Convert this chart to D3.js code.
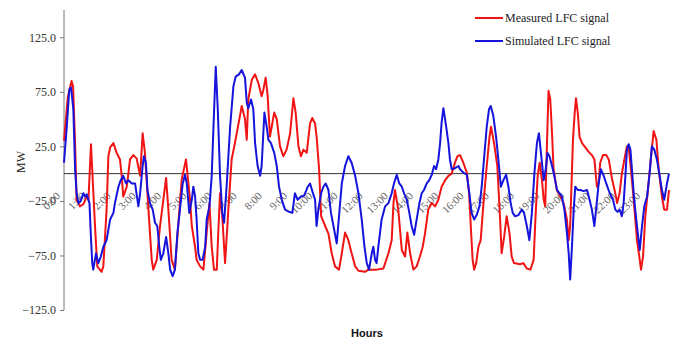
<!DOCTYPE html>
<html>
<head>
<meta charset="utf-8">
<script src="https://cdn.jsdelivr.net/npm/d3@7"></script>
<style>
  body { margin: 0; background: #fff; }
  svg { display: block; }
</style>
</head>
<body>
<div id="chart"></div>
<script>
// hour labels along the zero line
const hourTicks = d3.range(0, 24);
const yTicks = [-125, -75, -25, 25, 75, 125];

// measured LFC signal, [hour, MW]
const measured = [
  [0.00, 30], [0.15, 70], [0.30, 85], [0.36, 80], [0.44, 28], [0.50, -24], [0.63, -30], [0.77, -28],
  [0.90, -21], [0.97, -24], [1.07, 27], [1.23, -48], [1.32, -85], [1.49, -90], [1.56, -85], [1.69, -33],
  [1.76, 16], [1.83, 24], [1.96, 28], [2.09, 19], [2.22, 13], [2.29, -2], [2.35, -21], [2.49, -12],
  [2.62, 13], [2.75, 17], [2.88, 14], [3.02, -2], [3.12, 37], [3.21, 19], [3.35, -33], [3.48, -79],
  [3.54, -88], [3.68, -79], [3.81, -48], [3.94, -24], [4.05, -4], [4.14, -33], [4.27, -79], [4.40, -88],
  [4.54, -45], [4.67, -5], [4.84, 13], [5.00, -24], [5.07, -48], [5.20, -67], [5.26, -79], [5.40, -85],
  [5.53, -88], [5.66, -54], [5.77, -27], [5.86, -67], [5.95, -88], [6.06, -88], [6.12, -54], [6.19, -18],
  [6.28, -40], [6.39, -82], [6.52, -33], [6.65, 13], [6.78, 28], [6.98, 53], [7.05, 62], [7.18, 50],
  [7.25, 31], [7.31, 68], [7.45, 86], [7.58, 91], [7.71, 83], [7.84, 71], [7.91, 77], [8.00, 88],
  [8.08, 71], [8.17, 34], [8.24, 43], [8.34, 56], [8.44, 50], [8.57, 25], [8.70, 16], [8.83, 22],
  [8.97, 37], [9.10, 69], [9.19, 56], [9.30, 25], [9.40, 16], [9.50, 22], [9.63, 19], [9.76, 46],
  [9.85, 51], [9.96, 46], [10.02, 34], [10.12, 4], [10.20, -39], [10.36, -48], [10.49, -55], [10.62, -73],
  [10.75, -85], [10.91, -88], [11.02, -73], [11.15, -54], [11.28, -61], [11.41, -73], [11.55, -85], [11.68, -89],
  [11.94, -90], [12.07, -88], [12.40, -88], [12.67, -87], [12.87, -73], [13.00, -61], [13.07, -27], [13.13, -15],
  [13.26, -33], [13.40, -70], [13.53, -76], [13.62, -54], [13.73, -73], [13.86, -88], [13.99, -85], [14.12, -76],
  [14.23, -67], [14.32, -55], [14.45, -33], [14.59, -27], [14.72, -30], [14.85, -24], [14.98, -12], [15.12, -6],
  [15.25, -2], [15.38, 0], [15.51, 10], [15.61, 16], [15.71, 17], [15.84, 10], [15.98, 1], [16.07, -18],
  [16.15, -54], [16.21, -79], [16.27, -88], [16.35, -82], [16.44, -67], [16.53, -61], [16.64, -27], [16.77, 7],
  [16.88, 34], [16.94, 43], [17.06, 28], [17.19, 7], [17.30, -42], [17.36, -73], [17.46, -58], [17.56, -39],
  [17.67, -54], [17.76, -76], [17.85, -82], [18.09, -83], [18.22, -82], [18.36, -87], [18.50, -88], [18.63, -79],
  [18.70, -42], [18.79, -2], [18.87, 10], [18.96, -6], [19.03, -24], [19.09, -30], [19.16, 28], [19.22, 76],
  [19.29, 68], [19.36, 37], [19.42, 4], [19.55, -15], [19.69, -21], [19.82, -27], [19.95, -42], [20.02, -61],
  [20.08, -48], [20.19, 31], [20.26, 56], [20.31, 69], [20.38, 56], [20.45, 34], [20.55, 28], [20.68, 24],
  [20.81, 20], [20.94, 17], [21.04, 13], [21.14, -12], [21.21, -9], [21.27, 10], [21.38, 17], [21.51, 17],
  [21.61, 13], [21.74, -5], [21.87, -18], [21.94, -27], [22.04, -18], [22.13, 0], [22.23, 13], [22.33, 25],
  [22.41, 22], [22.49, 4], [22.60, -24], [22.73, -61], [22.84, -79], [22.89, -88], [22.97, -76], [23.06, -39],
  [23.19, -9], [23.29, 16], [23.39, 39], [23.50, 31], [23.59, 4], [23.72, -21], [23.81, -33], [23.92, -33],
  [24.00, -15]
];

// simulated LFC signal, [hour, MW]
const simulated = [
  [0.00, 10], [0.11, 43], [0.21, 77], [0.28, 79], [0.37, 59], [0.44, 4], [0.50, -18], [0.57, -27],
  [0.66, -25], [0.77, -18], [0.83, -21], [0.90, -19], [1.01, -27], [1.06, -54], [1.12, -82], [1.16, -88],
  [1.27, -73], [1.36, -82], [1.46, -76], [1.56, -67], [1.69, -61], [1.83, -42], [1.96, -36], [2.02, -27],
  [2.16, -12], [2.25, -6], [2.35, -2], [2.46, -9], [2.55, -6], [2.69, -9], [2.82, -9], [2.95, -30],
  [3.02, -18], [3.12, 7], [3.17, 16], [3.25, 10], [3.31, -15], [3.41, -27], [3.52, -33], [3.61, -45],
  [3.70, -48], [3.78, -67], [3.84, -79], [3.94, -73], [4.05, -58], [4.14, -73], [4.21, -88], [4.31, -94],
  [4.40, -88], [4.50, -54], [4.60, -33], [4.71, -9], [4.80, -1], [4.87, -9], [4.97, -36], [5.07, -24],
  [5.13, -12], [5.20, -21], [5.26, -42], [5.33, -73], [5.40, -79], [5.50, -79], [5.60, -67], [5.66, -42],
  [5.77, -30], [5.86, -2], [5.93, 43], [6.02, 98], [6.10, 59], [6.19, -2], [6.28, -36], [6.35, -45],
  [6.45, -12], [6.59, 43], [6.72, 80], [6.81, 89], [6.94, 91], [7.05, 95], [7.18, 88], [7.25, 65],
  [7.31, 60], [7.42, 68], [7.51, 59], [7.58, 28], [7.68, 7], [7.78, -2], [7.84, 7], [7.95, 56],
  [8.04, 43], [8.11, 31], [8.21, 28], [8.34, 19], [8.44, 7], [8.53, -12], [8.64, -24], [8.77, -33],
  [8.93, -35], [9.06, -36], [9.16, -18], [9.27, -24], [9.40, -21], [9.53, -20], [9.67, -12], [9.76, -9],
  [9.85, -16], [9.96, -24], [10.02, -48], [10.09, -33], [10.20, -18], [10.29, -12], [10.38, -9], [10.49, -15],
  [10.59, -36], [10.69, -48], [10.82, -64], [10.91, -39], [11.02, -9], [11.15, 7], [11.28, 16], [11.41, 10],
  [11.55, -2], [11.68, -18], [11.81, -42], [11.92, -67], [12.01, -82], [12.10, -88], [12.21, -73], [12.27, -67],
  [12.34, -79], [12.40, -82], [12.47, -67], [12.60, -42], [12.74, -30], [12.87, -27], [13.00, -18], [13.09, -9],
  [13.20, -1], [13.30, -9], [13.40, -12], [13.49, -18], [13.60, -24], [13.70, -36], [13.79, -48], [13.89, -56],
  [13.99, -42], [14.10, -27], [14.19, -18], [14.28, -15], [14.39, -9], [14.49, -6], [14.59, -1], [14.68, 7],
  [14.76, 4], [14.85, 13], [14.92, 28], [14.98, 47], [15.05, 60], [15.16, 43], [15.25, 28], [15.31, 13],
  [15.38, 4], [15.51, 5], [15.65, 7], [15.71, 4], [15.84, 1], [15.98, -1], [16.08, -18], [16.17, -36],
  [16.27, -42], [16.37, -38], [16.48, -30], [16.57, -12], [16.66, 13], [16.77, 43], [16.86, 59], [16.93, 62],
  [17.03, 53], [17.14, 34], [17.23, 13], [17.33, -12], [17.43, -6], [17.54, -1], [17.63, -12], [17.72, -27],
  [17.80, -36], [17.89, -39], [18.03, -38], [18.16, -33], [18.25, -36], [18.36, -48], [18.46, -61], [18.56, -36],
  [18.66, 0], [18.76, 28], [18.84, 37], [18.92, 19], [19.03, -6], [19.11, 4], [19.18, 19], [19.26, 16],
  [19.36, 7], [19.45, -2], [19.56, -15], [19.66, -18], [19.75, -21], [19.85, -33], [19.95, -54], [20.02, -73],
  [20.08, -97], [20.15, -67], [20.22, -33], [20.28, -12], [20.38, -15], [20.48, -15], [20.61, -16], [20.75, -15],
  [20.85, -24], [20.94, -33], [21.04, -48], [21.12, -30], [21.21, -9], [21.30, 4], [21.41, -2], [21.51, -9],
  [21.65, -18], [21.78, -24], [21.87, -33], [21.96, -35], [22.04, -33], [22.13, -39], [22.20, -27], [22.27, -2],
  [22.33, 22], [22.40, 27], [22.47, 22], [22.53, 4], [22.62, -24], [22.73, -48], [22.84, -70], [22.93, -48],
  [23.02, -30], [23.13, -21], [23.23, 0], [23.32, 25], [23.42, 22], [23.52, 13], [23.63, -2], [23.72, -15],
  [23.81, -24], [23.92, -9], [24.00, 0]
];

const series = [
  { name: "Measured LFC signal", color: "#f01414", data: measured },
  { name: "Simulated LFC signal", color: "#1414dc", data: simulated }
];

let width = 681, height = 343;

let x = d3.scaleLinear().domain([0, 24]).range([64, 669]);
let y = d3.scaleLinear().domain([-125, 150]).range([310, 10]);

let svg = d3.select("#chart").append("svg")
  .attr("width", width)
  .attr("height", height);

// y axis (ticks on the left, labels with one decimal)
let yAxis = svg.append("g")
  .attr("transform", "translate(64,0)")
  .call(d3.axisLeft(y).tickValues(yTicks).tickSize(4).tickFormat(d3.format(".1f")));
yAxis.select(".domain").attr("stroke", "#777").attr("d", "M0," + y(150) + "V" + y(-125));
yAxis.selectAll(".tick line").attr("stroke", "#777");
yAxis.selectAll(".tick text")
  .attr("x", -8)
  .style("font-family", "'Liberation Serif', 'DejaVu Serif', serif")
  .style("font-size", "12px")
  .attr("fill", "#333");

// zero line with rotated hour labels
svg.append("line")
  .attr("x1", x(0)).attr("x2", x(24))
  .attr("y1", y(0)).attr("y2", y(0))
  .attr("stroke", "#333")
  .attr("stroke-width", 1);

svg.append("g").selectAll("text")
  .data(hourTicks)
  .join("text")
  .attr("transform", d => "translate(" + (x(d) - 3) + "," + (y(0) + 23) + ") rotate(-45)")
  .attr("text-anchor", "end")
  .style("font-family", "'Liberation Serif', 'DejaVu Serif', serif")
  .style("font-size", "11px")
  .attr("fill", "#666")
  .text(d => d + ":00");

// signals
let line = d3.line()
  .x(d => x(d[0]))
  .y(d => y(d[1]));

svg.append("g").selectAll("path")
  .data(series)
  .join("path")
  .attr("d", d => line(d.data))
  .attr("fill", "none")
  .attr("stroke", d => d.color)
  .attr("stroke-width", 2)
  .attr("stroke-linejoin", "round");

// axis titles
svg.append("text")
  .attr("transform", "translate(25,162) rotate(-90)")
  .attr("text-anchor", "middle")
  .style("font-family", "'Liberation Serif', 'DejaVu Serif', serif")
  .style("font-size", "12px")
  .attr("fill", "#222")
  .text("MW");

svg.append("text")
  .attr("x", 367)
  .attr("y", 337)
  .attr("text-anchor", "middle")
  .style("font-family", "'Liberation Sans', Arial, sans-serif")
  .style("font-size", "11px")
  .style("font-weight", "bold")
  .attr("fill", "#111")
  .text("Hours");

// legend
let legend = svg.append("g").selectAll("g")
  .data(series)
  .join("g")
  .attr("transform", (d, i) => "translate(475," + (18 + i * 23) + ")");

legend.append("line")
  .attr("x1", 0).attr("x2", 28)
  .attr("stroke", d => d.color)
  .attr("stroke-width", 2);

legend.append("text")
  .attr("x", 30)
  .attr("y", 4)
  .style("font-family", "'Liberation Serif', 'DejaVu Serif', serif")
  .style("font-size", "12px")
  .attr("fill", "#222")
  .text(d => d.name);
</script>
</body>
</html>
